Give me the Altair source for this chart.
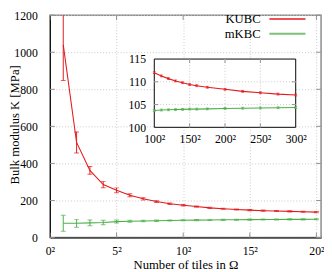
import altair as alt
import pandas as pd

series = ["KUBC", "mKBC"]
colors = ["#e41a1c", "#4daf4a"]

n_main = list(range(1, 21))
kubc_main = [1040, 513, 362, 286, 255, 228, 209, 194, 182, 174, 167, 160, 155, 151, 148, 145, 143, 141, 139, 137]
kubc_err = [192, 57, 21, 17, 13, 8, 6, 5, 4, 4, 3, 3, 3, 3, 3, 3, 3, 3, 3, 3]
mkbc_main = [77, 77, 79, 81, 86, 88, 89, 91, 92, 93, 94, 95, 95.5, 96, 96.5, 97, 97.5, 98, 98, 98.5]
mkbc_err = [43, 21, 16, 12, 8, 5, 4, 4, 3, 3, 3, 3, 3, 3, 3, 3, 3, 3, 3, 3]

n_inset = [100, 110, 120, 130, 140, 150, 160, 175, 200, 225, 250, 275, 300]
kubc_inset = [112.0, 111.3, 110.7, 110.2, 109.8, 109.4, 109.15, 108.8, 108.35, 107.9, 107.6, 107.3, 107.1]
mkbc_inset = [103.7, 103.8, 103.85, 103.9, 103.95, 104.0, 104.0, 104.05, 104.15, 104.2, 104.25, 104.3, 104.35]
inset_err = 0.2

x_ticks = [0, 5, 10, 15, 20]
y_ticks = [0, 200, 400, 600, 800, 1000, 1200]
xi_ticks = [100, 150, 200, 250, 300]
yi_ticks = [100, 105, 110, 115]

FONT = "Liberation Serif"
LEFT = 51
W, H = 329 - LEFT, 228
FS = 12

# inset placement (pixels inside the main plot area)
IL, IR, IT, IB = 158 - LEFT, 303 - LEFT, 45, 115


def build(ns, vals, errs):
    rows = []
    for s, v, e in zip(series, vals, errs):
        for i, n in enumerate(ns):
            ee = e[i] if isinstance(e, list) else e
            rows.append({"n": n, "v": v[i], "lo": v[i] - ee, "hi": v[i] + ee, "s": s})
    return pd.DataFrame(rows)


main_df = build(n_main, [kubc_main, mkbc_main], [kubc_err, mkbc_err])
inset_df = build(n_inset, [kubc_inset, mkbc_inset], [inset_err, inset_err])

color = alt.Color("s:N", scale=alt.Scale(domain=series, range=colors), legend=None)

common = dict(labelFont=FONT, labelFontSize=FS, labelColor="black", titleFont=FONT,
              titleFontSize=13, titleColor="black", titleFontWeight="normal")

# ---------- main ----------
mx_scale = alt.Scale(domain=[0, 20.35], nice=False, zero=False)
my_scale = alt.Scale(domain=[0, 1200], nice=False)
mx_axis = alt.Axis(values=x_ticks, labelExpr="datum.value + '²'", title="Number of tiles in Ω",
                   grid=True, gridDash=[1, 2], gridColor="#c8c8c8", ticks=False, tickSize=0,
                   domainColor="black", labelPadding=8, titlePadding=3, labelFlush=False, **common)
my_axis = alt.Axis(values=y_ticks, format="d", title="Bulk modulus K [MPa]", grid=True, gridDash=[1, 2],
                   gridColor="#c8c8c8", ticks=False, tickSize=0, domainColor="black",
                   labelPadding=13, titleX=19 - LEFT, titleY=112, titleBaseline="alphabetic", **common)


def MX(f):
    return alt.X(f, type="quantitative", scale=mx_scale, axis=mx_axis)


def MY(f):
    return alt.Y(f, type="quantitative", scale=my_scale, axis=my_axis)


base_m = alt.Chart(main_df)
m_line = base_m.mark_line(strokeWidth=1.1, clip=True).encode(x=MX("n"), y=MY("v"), color=color)
m_rule = base_m.mark_rule(strokeWidth=1, clip=True).encode(x=MX("n"), y=MY("lo"), y2="hi", color=color)
m_cap_lo = base_m.mark_tick(orient="horizontal", size=5, thickness=1, clip=True).encode(x=MX("n"), y=MY("lo"), color=color)
m_cap_hi = base_m.mark_tick(orient="horizontal", size=5, thickness=1, clip=True).encode(x=MX("n"), y=MY("hi"), color=color)

xt_df = pd.DataFrame({"n": x_ticks})
yt_df = pd.DataFrame({"v": y_ticks})
tick_col = "#909090"
m_xt_b = alt.Chart(xt_df).mark_rule(color=tick_col).encode(x=MX("n"), y=alt.value(H), y2=alt.value(H - 5))
m_xt_t = alt.Chart(xt_df).mark_rule(color=tick_col).encode(x=MX("n"), y=alt.value(0), y2=alt.value(5))
m_yt_l = alt.Chart(yt_df).mark_rule(color=tick_col).encode(y=MY("v"), x=alt.value(0), x2=alt.value(5))
m_yt_r = alt.Chart(yt_df).mark_rule(color=tick_col).encode(y=MY("v"), x=alt.value(W), x2=alt.value(W - 5))

leg_layers = []
for i, (s, c) in enumerate(zip(series, colors)):
    ldf = pd.DataFrame({"s": [s]})
    yy = 4 + 15 * i
    leg_layers.append(alt.Chart(ldf).mark_text(align="right", baseline="middle", font=FONT, fontSize=13,
                                               color="black").encode(text="s:N", x=alt.value(267 - LEFT), y=alt.value(yy)))
    leg_layers.append(alt.Chart(ldf).mark_rule(color=c, strokeWidth=2, opacity=0.75).encode(
        x=alt.value(276 - LEFT), x2=alt.value(313 - LEFT), y=alt.value(yy)))

main = alt.layer(m_line, m_rule, m_cap_lo, m_cap_hi, m_xt_b, m_xt_t, m_yt_l, m_yt_r, *leg_layers)

# ---------- inset ----------
ix_scale = alt.Scale(domain=[100, 300], range=[IL, IR], nice=False, zero=False)
iy_scale = alt.Scale(domain=[100, 115], range=[IB, IT], nice=False, zero=False)
ix_axis = alt.Axis(values=xi_ticks, labelExpr="datum.value + '²'", title=None, orient="bottom",
                   offset=-(H - IB), grid=False, ticks=False, tickSize=0, domain=False,
                   labelPadding=7, zindex=1, labelFlush=False, **common)
iy_axis = alt.Axis(values=yi_ticks, title=None, orient="left", offset=-IL, grid=False,
                   ticks=False, tickSize=0, domain=False, labelPadding=9, zindex=1, **common)


def IX(f):
    return alt.X(f, type="quantitative", scale=ix_scale, axis=ix_axis)


def IY(f):
    return alt.Y(f, type="quantitative", scale=iy_scale, axis=iy_axis)


frame_df = pd.DataFrame({"x0": [xi_ticks[0]], "x1": [xi_ticks[-1]], "y0": [yi_ticks[0]], "y1": [yi_ticks[-1]]})
i_frame = alt.Chart(frame_df).mark_rect(fill="white", stroke="black", strokeWidth=1).encode(
    x=IX("x0"), x2="x1", y=IY("y0"), y2="y1")

gx_df = pd.DataFrame({"n": xi_ticks[1:-1]})
gy_df = pd.DataFrame({"v": yi_ticks[1:-1]})
i_gx = alt.Chart(gx_df).mark_rule(color="#c8c8c8", strokeDash=[1, 2]).encode(x=IX("n"), y=alt.value(IT), y2=alt.value(IB))
i_gy = alt.Chart(gy_df).mark_rule(color="#c8c8c8", strokeDash=[1, 2]).encode(y=IY("v"), x=alt.value(IL), x2=alt.value(IR))
i_tb = alt.Chart(gx_df).mark_rule(color=tick_col).encode(x=IX("n"), y=alt.value(IB), y2=alt.value(IB - 4))
i_tt = alt.Chart(gx_df).mark_rule(color=tick_col).encode(x=IX("n"), y=alt.value(IT), y2=alt.value(IT + 4))
i_tl = alt.Chart(gy_df).mark_rule(color=tick_col).encode(y=IY("v"), x=alt.value(IL), x2=alt.value(IL + 4))
i_tr = alt.Chart(gy_df).mark_rule(color=tick_col).encode(y=IY("v"), x=alt.value(IR), x2=alt.value(IR - 4))

base_i = alt.Chart(inset_df)
i_line = base_i.mark_line(strokeWidth=1.1).encode(x=IX("n"), y=IY("v"), color=color)
i_rule = base_i.mark_rule(strokeWidth=1).encode(x=IX("n"), y=IY("lo"), y2="hi", color=color)
i_cap_lo = base_i.mark_tick(orient="horizontal", size=3, thickness=1).encode(x=IX("n"), y=IY("lo"), color=color)
i_cap_hi = base_i.mark_tick(orient="horizontal", size=3, thickness=1).encode(x=IX("n"), y=IY("hi"), color=color)

inset = alt.layer(i_frame, i_gx, i_gy, i_tb, i_tt, i_tl, i_tr, i_line, i_rule, i_cap_lo, i_cap_hi)

chart = alt.layer(main, inset).resolve_scale(x="independent", y="independent").properties(
    width=W, height=H,
    autosize=alt.AutoSizeParams(type="none"),
    padding={"left": LEFT - 8, "top": 4, "right": 3, "bottom": 32},
).configure_view(stroke="#8a8a8a", strokeWidth=1.5).configure_axis(
    domainWidth=1
).configure_text(font=FONT)

chart.save("out.html", embed_options={"renderer": "svg", "actions": False})
